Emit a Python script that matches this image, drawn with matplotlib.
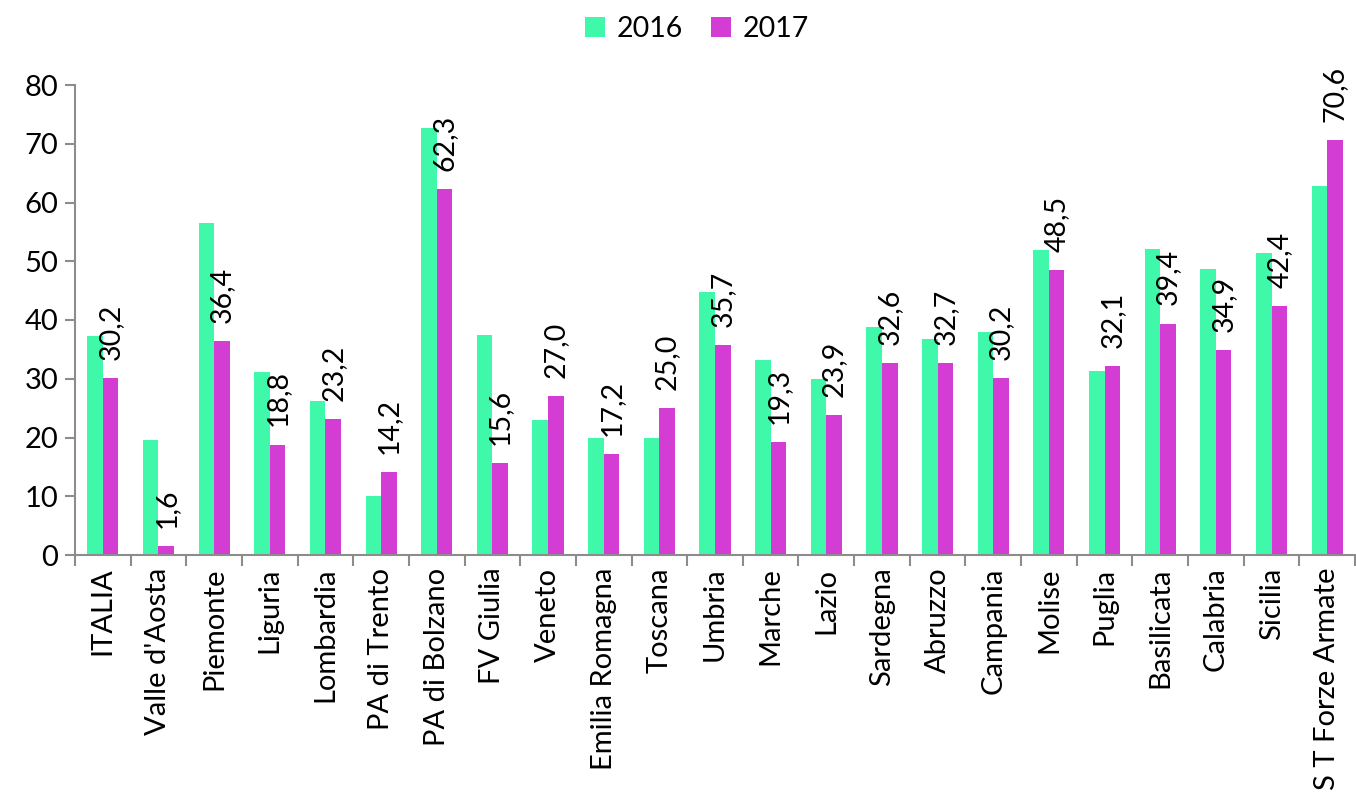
import numpy as np
from matplotlib import pyplot as plt

regions = ["ITALIA", "Valle d'Aosta", "Piemonte", "Liguria", "Lombardia", "PA di Trento",
           "PA di Bolzano", "FV Giulia", "Veneto", "Emilia Romagna", "Toscana", "Umbria",
           "Marche", "Lazio", "Sardegna", "Abruzzo", "Campania", "Molise", "Puglia",
           "Basilicata", "Calabria", "Sicilia", "S T Forze Armate"]
v2016 = [37.3, 19.6, 56.5, 31.2, 26.2, 10.1, 72.7, 37.5, 23.0, 20.0, 20.0, 44.8,
         33.2, 29.9, 38.8, 36.8, 38.0, 52.0, 31.3, 52.1, 48.6, 51.4, 62.8]
v2017 = [30.2, 1.6, 36.4, 18.8, 23.2, 14.2, 62.3, 15.6, 27.0, 17.2, 25.0, 35.7,
         19.3, 23.9, 32.6, 32.7, 30.2, 48.5, 32.1, 39.4, 34.9, 42.4, 70.6]

plt.rcParams['font.family'] = ['Lato', 'DejaVu Sans']
green = '#40F8AA'
purple = '#D43DD3'
axis_col = '#8C8C8C'

fig = plt.figure(figsize=(13.56, 7.97), dpi=100)
ax = fig.add_axes([75/1356, 1-555/797, 1-75/1356 - 1/1356, (555-85)/797])

x = np.arange(len(regions))
w = 0.28
ax.bar(x - w/2, v2016, width=w, color=green, label='2016')
ax.bar(x + w/2, v2017, width=w, color=purple, label='2017')

for xi, v in zip(x, v2017):
    ax.annotate(f"{v:.1f}".replace('.', ','), (xi + w/2, v), xytext=(0, 13),
                textcoords='offset points', rotation=90, ha='center', va='bottom',
                fontsize=20.5, color='black')

ax.set_xlim(-0.5, len(regions) - 0.5)
ax.set_ylim(0, 80)
ax.set_yticks(np.arange(0, 81, 10))
ax.tick_params(axis='y', labelsize=21, length=7, color=axis_col, width=1.5, pad=5)

ax.set_xticks(np.arange(-0.5, len(regions), 1))
ax.set_xticklabels([])
ax.tick_params(axis='x', which='major', length=8, color=axis_col, width=1.5)
ax.set_xticks(x, minor=True)
ax.set_xticklabels(regions, minor=True, rotation=90, fontsize=21)
ax.tick_params(axis='x', which='minor', length=0, pad=9)

for s in ['top', 'right']:
    ax.spines[s].set_visible(False)
for s in ['left', 'bottom']:
    ax.spines[s].set_color(axis_col)
    ax.spines[s].set_linewidth(1.5)

fig.legend(loc='upper center', bbox_to_anchor=(0.514, 1.012), ncol=2, frameon=False,
           fontsize=20.5, handlelength=0.7, handleheight=0.7, handletextpad=0.4,
           columnspacing=1.0)

fig.savefig('out.png', dpi=100)
